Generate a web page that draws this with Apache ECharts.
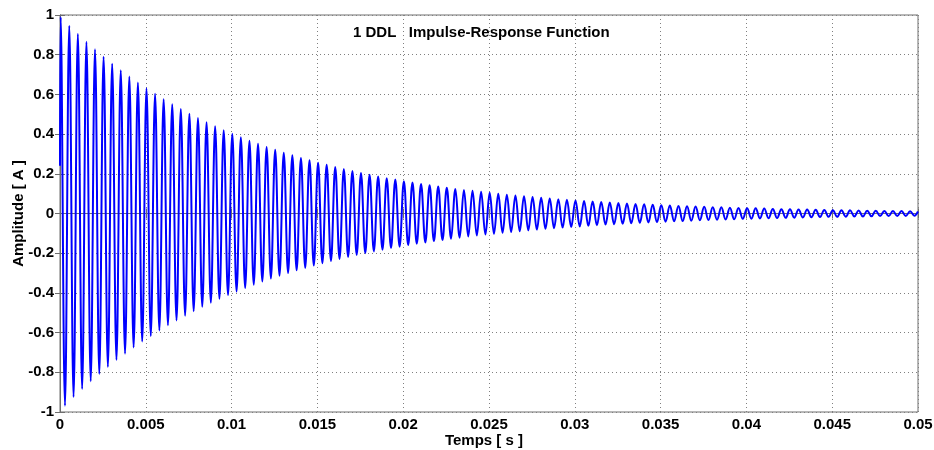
<!DOCTYPE html>
<html>
<head>
<meta charset="utf-8">
<script src="https://cdn.jsdelivr.net/npm/echarts@6/dist/echarts.min.js"></script>
<style>html,body{margin:0;padding:0;background:#fff;}#c{width:934px;height:450px;}</style>
</head>
<body>
<div id="c"></div>
<script>
// Times (ms) of the start, each read extremum, and the end of the record
var extremaTimesMs = [0,
0.04,0.29,0.54,0.79,1.04,1.29,1.54,1.79,2.04,2.29,2.54,2.79,3.04,3.29,3.54,3.79,4.04,4.29,4.54,4.79,
5.04,5.29,5.54,5.79,6.04,6.29,6.54,6.79,7.04,7.29,7.54,7.79,8.04,8.29,8.54,8.79,9.04,9.29,9.54,9.79,
10.04,10.29,10.54,10.79,11.04,11.29,11.54,11.79,12.04,12.29,12.54,12.79,13.04,13.29,13.54,13.79,14.04,14.29,14.54,14.79,
15.04,15.29,15.54,15.79,16.04,16.29,16.54,16.79,17.04,17.29,17.54,17.79,18.04,18.29,18.54,18.79,19.04,19.29,19.54,19.79,
20.04,20.29,20.54,20.79,21.04,21.29,21.54,21.79,22.04,22.29,22.54,22.79,23.04,23.29,23.54,23.79,24.04,24.29,24.54,24.79,
25.04,25.29,25.54,25.79,26.04,26.29,26.54,26.79,27.04,27.29,27.54,27.79,28.04,28.29,28.54,28.79,29.04,29.29,29.54,29.79,
30.04,30.29,30.54,30.79,31.04,31.29,31.54,31.79,32.04,32.29,32.54,32.79,33.04,33.29,33.54,33.79,34.04,34.29,34.54,34.79,
35.04,35.29,35.54,35.79,36.04,36.29,36.54,36.79,37.04,37.29,37.54,37.79,38.04,38.29,38.54,38.79,39.04,39.29,39.54,39.79,
40.04,40.29,40.54,40.79,41.04,41.29,41.54,41.79,42.04,42.29,42.54,42.79,43.04,43.29,43.54,43.79,44.04,44.29,44.54,44.79,
45.04,45.29,45.54,45.79,46.04,46.29,46.54,46.79,47.04,47.29,47.54,47.79,48.04,48.29,48.54,48.79,49.04,49.29,49.54,49.79,
50];

// Amplitude [A] at those times (peaks and troughs)
var extremaValues = [0.24,
0.990,-0.968,0.946,-0.925,0.905,-0.884,0.865,-0.845,0.827,-0.808,0.790,-0.773,0.755,-0.738,0.722,-0.706,0.690,-0.675,0.660,-0.645,
0.631,-0.617,0.603,-0.589,0.576,-0.563,0.551,-0.539,0.527,-0.515,0.503,-0.492,0.481,-0.470,0.460,-0.450,0.440,-0.430,0.420,-0.411,
0.402,-0.393,0.384,-0.375,0.367,-0.359,0.351,-0.343,0.335,-0.328,0.321,-0.313,0.306,-0.300,0.293,-0.286,0.280,-0.274,0.268,-0.262,
0.256,-0.250,0.245,-0.239,0.234,-0.229,0.224,-0.219,0.214,-0.209,0.204,-0.200,0.195,-0.191,0.187,-0.182,0.178,-0.174,0.171,-0.167,
0.163,-0.159,0.156,-0.152,0.149,-0.146,0.142,-0.139,0.136,-0.133,0.130,-0.127,0.124,-0.122,0.119,-0.116,0.114,-0.111,0.109,-0.106,
0.104,-0.102,0.099,-0.097,0.095,-0.093,0.091,-0.089,0.087,-0.085,0.083,-0.081,0.079,-0.077,0.076,-0.074,0.072,-0.071,0.069,-0.068,
0.066,-0.065,0.063,-0.062,0.060,-0.059,0.058,-0.056,0.055,-0.054,0.053,-0.052,0.050,-0.049,0.048,-0.047,0.046,-0.045,0.044,-0.043,
0.042,-0.041,0.040,-0.039,0.038,-0.038,0.037,-0.036,0.035,-0.034,0.034,-0.033,0.032,-0.031,0.031,-0.030,0.029,-0.029,0.028,-0.027,
0.027,-0.026,0.026,-0.025,0.025,-0.024,0.023,-0.023,0.022,-0.022,0.021,-0.021,0.020,-0.020,0.020,-0.019,0.019,-0.018,0.018,-0.017,
0.017,-0.017,0.016,-0.016,0.016,-0.015,0.015,-0.015,0.014,-0.014,0.014,-0.013,0.013,-0.013,0.012,-0.012,0.012,-0.012,0.011,-0.011,
0.010];

var xTickLabels = ['0','0.005','0.01','0.015','0.02','0.025','0.03','0.035','0.04','0.045','0.05'];
var yTickLabels = ['-1','-0.8','-0.6','-0.4','-0.2','0','0.2','0.4','0.6','0.8','1'];
var titleText = '1 DDL   Impulse-Response Function';
var xName = 'Temps [ s ]';
var yName = 'Amplitude [ A ]';

var FONT = 'Liberation Sans, Arial, Helvetica, sans-serif';
var frameColor = '#6e6e6e';
var data = extremaTimesMs.map(function (t, i) { return [t / 1000, extremaValues[i]]; });

var tickStyle = {show: true, inside: true, length: 5, lineStyle: {color: frameColor, width: 1}};
var lineSt = {show: true, lineStyle: {color: frameColor, width: 1}};
var gridLine = {show: true, lineStyle: {color: '#808080', width: 1, type: [1, 3]}};
var labelSt = {color: '#000', fontWeight: 'bold', fontSize: 15, fontFamily: FONT};

var chart = echarts.init(document.getElementById('c'), null, {renderer: 'canvas'});
chart.setOption({
  animation: false,
  backgroundColor: '#fff',
  title: {
    text: titleText, left: 353, top: 25, padding: 0,
    textStyle: {color: '#000', fontWeight: 'bold', fontSize: 15, fontFamily: FONT}
  },
  grid: {left: 60, right: 16, top: 15, bottom: 38, containLabel: false, outerBoundsMode: 'none',
         show: true, borderColor: frameColor, borderWidth: 1, backgroundColor: '#fff'},
  xAxis: [{
    type: 'value', min: 0, max: 0.05, interval: 0.005, position: 'bottom',
    axisLine: lineSt, axisTick: tickStyle, splitLine: gridLine,
    axisLabel: Object.assign({margin: 5, formatter: function (v, i) { return xTickLabels[i]; }}, labelSt),
    name: xName, nameLocation: 'middle', nameGap: 21, nameMoveOverlap: false,
    nameTextStyle: Object.assign({padding: [0, 10, 0, 0]}, labelSt)
  }, {
    type: 'value', min: 0, max: 0.05, interval: 0.005, position: 'top',
    axisLine: lineSt, axisTick: tickStyle, splitLine: {show: false}, axisLabel: {show: false}
  }],
  yAxis: [{
    type: 'value', min: -1, max: 1, interval: 0.2, position: 'left',
    axisLine: lineSt, axisTick: tickStyle, splitLine: gridLine,
    axisLabel: Object.assign({margin: 6, formatter: function (v, i) { return yTickLabels[i]; }}, labelSt),
    name: yName, nameLocation: 'middle', nameGap: 34, nameMoveOverlap: false,
    nameTextStyle: labelSt
  }, {
    type: 'value', min: -1, max: 1, interval: 0.2, position: 'right',
    axisLine: lineSt, axisTick: tickStyle, splitLine: {show: false}, axisLabel: {show: false}
  }],
  series: [{
    type: 'line', data: data, xAxisIndex: 0, yAxisIndex: 0,
    showSymbol: false, symbol: 'none', smooth: 0.4,
    lineStyle: {color: '#0000ff', width: 2}
  }]
});
</script>
</body>
</html>
